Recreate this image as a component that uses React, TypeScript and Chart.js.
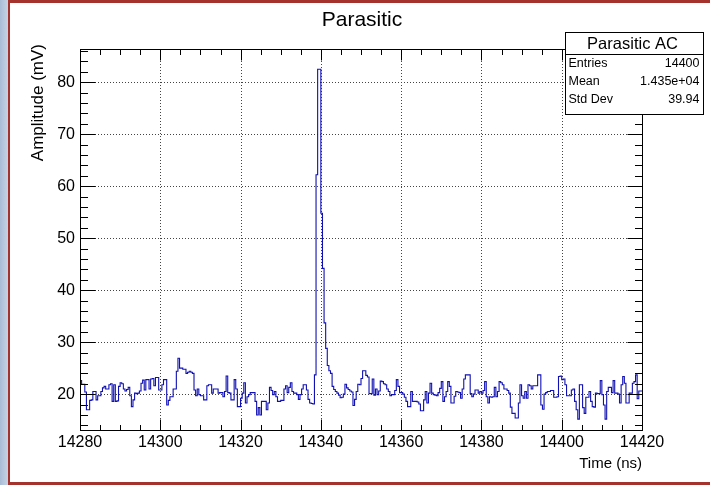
import React, { useEffect, useRef } from 'react';
import { Chart, registerables } from 'chart.js';

Chart.register(...registerables);

// ---- data ----
const BIN_START = 14280;
const BIN_WIDTH = 0.4;
const X_MIN = 14280;
const X_MAX = 14420;
const Y_MIN = 13.1;
const Y_MAX = 86.4;
const X_MAJOR = 20;
const X_MINOR = 5;
const Y_MAJOR = 10;
const Y_MINOR = 2;

const amplitude = [
  22.6, 22.6, 21.9, 21.9, 20.4, 17.0, 17.0, 18.8, 18.9, 20.5,
  20.5, 18.9, 19.7, 19.7, 20.5, 21.2, 21.5, 21.0, 21.0, 21.8,
  22.0, 18.6, 21.8, 18.6, 18.7, 21.5, 22.2, 22.0, 21.0, 20.6,
  20.9, 21.3, 19.7, 17.6, 18.9, 20.2, 20.1, 20.2, 20.6, 22.1,
  22.7, 20.8, 22.8, 22.8, 21.0, 22.9, 23.0, 21.6, 23.2, 23.2,
  20.8, 20.8, 21.8, 22.8, 22.8, 17.9, 18.8, 19.5, 19.5, 21.0,
  21.0, 24.4, 26.9, 25.0, 25.0, 24.8, 24.8, 24.0, 24.2, 24.4,
  24.2, 24.0, 20.8, 19.7, 21.0, 19.9, 19.7, 19.7, 18.9, 18.9,
  21.6, 21.8, 21.8, 20.2, 21.0, 21.0, 21.0, 20.2, 20.3, 20.3,
  19.5, 20.5, 23.5, 20.3, 20.2, 18.9, 18.9, 22.8, 21.0, 17.6,
  17.6, 19.2, 20.2, 22.2, 18.3, 19.5, 19.9, 20.3, 20.3, 20.3,
  18.6, 16.0, 17.4, 16.0, 18.6, 18.6, 18.6, 17.0, 18.3, 21.3,
  20.7, 19.9, 20.5, 19.5, 18.6, 18.6, 18.8, 18.8, 21.0, 21.6,
  20.3, 21.3, 22.2, 20.5, 20.2, 20.2, 19.9, 19.0, 19.9, 21.0,
  21.8, 21.8, 20.8, 19.0, 18.3, 18.2, 18.1, 23.7, 62.2, 82.5,
  82.5, 54.8, 44.2, 33.7, 28.8, 25.5, 24.5, 24.0, 21.5, 20.9,
  20.5, 20.2, 19.8, 19.3, 19.4, 20.0, 21.9, 21.2, 20.9, 20.6,
  20.4, 17.8, 19.0, 20.5, 21.9, 21.8, 23.0, 24.5, 24.5, 23.6,
  23.3, 20.1, 20.1, 22.9, 19.8, 21.0, 19.9, 20.6, 22.5, 22.4,
  22.0, 21.8, 21.0, 20.5, 19.7, 19.9, 19.9, 20.7, 22.8, 21.5,
  20.3, 20.3, 20.0, 19.4, 18.6, 17.6, 17.6, 20.5, 18.6, 18.6,
  18.6, 18.5, 18.1, 16.8, 16.8, 18.9, 20.5, 18.3, 20.2, 22.1,
  20.2, 19.9, 19.8, 19.7, 20.3, 21.1, 22.4, 18.6, 19.5, 20.5,
  22.4, 21.5, 18.3, 18.3, 19.6, 20.5, 20.4, 20.3, 19.2, 21.0,
  22.9, 23.7, 23.7, 23.7, 20.1, 19.5, 20.0, 20.8, 20.8, 20.2,
  20.5, 20.2, 20.7, 22.4, 19.5, 18.3, 19.5, 19.4, 19.5, 21.3,
  19.5, 20.5, 22.4, 22.2, 21.8, 21.0, 21.0, 20.7, 20.2, 17.5,
  16.3, 16.3, 15.4, 15.4, 18.3, 21.8, 19.7, 19.2, 20.5, 19.2,
  21.8, 21.6, 21.0, 21.6, 21.6, 21.6, 23.7, 23.7, 17.9, 17.1,
  20.0, 20.3, 20.5, 20.5, 20.7, 20.7, 19.4, 19.4, 19.5, 23.4,
  23.5, 22.8, 22.9, 21.8, 19.7, 19.7, 19.7, 20.8, 21.0, 18.6,
  17.0, 15.2, 21.8, 21.8, 17.4, 16.3, 19.4, 19.4, 20.5, 18.6,
  17.6, 17.5, 20.2, 20.1, 20.1, 22.6, 19.9, 17.9, 15.2, 20.5,
  21.3, 21.3, 20.3, 22.6, 20.2, 20.2, 20.0, 18.3, 21.8, 23.4,
  22.1, 18.3, 18.3, 20.2, 20.2, 22.1, 22.4, 23.7, 19.1, 20.6,
];

const TITLE = 'Parasitic';
const X_TITLE = 'Time (ns)';
const Y_TITLE = 'Amplitude (mV)';
const STATS_TITLE = 'Parasitic AC';
const statsLabels = ['Entries', 'Mean', 'Std Dev'];
const statsValues = ['14400', '1.435e+04', '39.94'];

const FONT = '"Liberation Sans", Arial, Helvetica, sans-serif';
const LINE_COLOR = '#1010b4';

const decor = {
  id: 'rootDecor',
  beforeDatasetsDraw(chart: any) {
    const { ctx, chartArea: a, scales } = chart;
    const xs = scales.x;
    const ys = scales.y;
    ctx.save();
    ctx.strokeStyle = '#444';
    ctx.lineWidth = 1;
    ctx.setLineDash([1, 2]);
    for (let v = X_MIN + X_MAJOR; v < X_MAX; v += X_MAJOR) {
      const px = Math.round(xs.getPixelForValue(v)) + 0.5;
      ctx.beginPath();
      ctx.moveTo(px, a.top);
      ctx.lineTo(px, a.bottom);
      ctx.stroke();
    }
    for (let v = Math.ceil(Y_MIN / Y_MAJOR) * Y_MAJOR; v < Y_MAX; v += Y_MAJOR) {
      const py = Math.round(ys.getPixelForValue(v)) + 0.5;
      ctx.beginPath();
      ctx.moveTo(a.left, py);
      ctx.lineTo(a.right, py);
      ctx.stroke();
    }
    ctx.restore();
  },
  afterDatasetsDraw(chart: any) {
    const { ctx, chartArea: a, scales } = chart;
    const xs = scales.x;
    const ys = scales.y;
    ctx.save();
    ctx.strokeStyle = '#000';
    ctx.lineWidth = 1;
    ctx.setLineDash([]);
    const L = Math.round(a.left) + 0.5;
    const R = Math.round(a.right) + 0.5;
    const T = Math.round(a.top) + 0.5;
    const B = Math.round(a.bottom) + 0.5;
    ctx.strokeRect(L, T, R - L, B - T);

    const xMaj = 11;
    const xMin = 5.5;
    for (let v = Math.ceil(X_MIN / X_MINOR) * X_MINOR; v <= X_MAX + 1e-9; v += X_MINOR) {
      const px = Math.round(xs.getPixelForValue(v)) + 0.5;
      const len = Math.abs((v - X_MIN) % X_MAJOR) < 1e-6 ? xMaj : xMin;
      ctx.beginPath();
      ctx.moveTo(px, B);
      ctx.lineTo(px, B - len);
      ctx.moveTo(px, T);
      ctx.lineTo(px, T + len);
      ctx.stroke();
    }
    const yMaj = 15;
    const yMin = 7.5;
    for (let v = Math.ceil(Y_MIN / Y_MINOR) * Y_MINOR; v <= Y_MAX + 1e-9; v += Y_MINOR) {
      const py = Math.round(ys.getPixelForValue(v)) + 0.5;
      const len = Math.abs(v % Y_MAJOR) < 1e-6 ? yMaj : yMin;
      ctx.beginPath();
      ctx.moveTo(L, py);
      ctx.lineTo(L + len, py);
      ctx.moveTo(R, py);
      ctx.lineTo(R - len, py);
      ctx.stroke();
    }

    // main title
    ctx.fillStyle = '#000';
    ctx.font = `21px ${FONT}`;
    ctx.textAlign = 'center';
    ctx.textBaseline = 'alphabetic';
    ctx.fillText(TITLE, 362, 26);

    // x title
    ctx.font = `15px ${FONT}`;
    ctx.textAlign = 'right';
    ctx.fillText(X_TITLE, a.right, 468);

    // y title
    ctx.save();
    ctx.translate(43, 44);
    ctx.rotate(-Math.PI / 2);
    ctx.textAlign = 'right';
    ctx.textBaseline = 'alphabetic';
    ctx.font = `17px ${FONT}`;
    ctx.fillText(Y_TITLE, 0, 0);
    ctx.restore();

    // stats box
    const bx = 565.5, by = 32.5, bw = 138, bh = 82;
    ctx.fillStyle = '#fff';
    ctx.fillRect(bx, by, bw, bh);
    ctx.strokeStyle = '#000';
    ctx.strokeRect(bx, by, bw, bh);
    ctx.beginPath();
    ctx.moveTo(bx, 54.5);
    ctx.lineTo(bx + bw, 54.5);
    ctx.stroke();
    ctx.fillStyle = '#000';
    ctx.font = `16.5px ${FONT}`;
    ctx.textAlign = 'center';
    ctx.textBaseline = 'middle';
    ctx.fillText(STATS_TITLE, bx + bw / 2 - 2, 44);
    ctx.font = `12.5px ${FONT}`;
    statsLabels.forEach((lab, i) => {
      const yy = 64 + i * 18;
      ctx.textAlign = 'left';
      ctx.fillText(lab, bx + 3, yy);
      ctx.textAlign = 'right';
      ctx.fillText(statsValues[i], bx + bw - 4, yy);
    });
    ctx.restore();
  },
};

export default function App() {
  const ref = useRef<HTMLCanvasElement | null>(null);
  useEffect(() => {
    if (!ref.current) return;
    const points = amplitude.map((v, k) => ({ x: BIN_START + k * BIN_WIDTH, y: v }));
    points.push({ x: BIN_START + amplitude.length * BIN_WIDTH, y: amplitude[amplitude.length - 1] });
    const chart = new Chart(ref.current, {
      type: 'line',
      data: {
        datasets: [
          {
            data: points,
            stepped: 'after',
            borderColor: LINE_COLOR,
            borderWidth: 1.1,
            pointRadius: 0,
            fill: false,
            tension: 0,
          },
        ],
      },
      options: {
        animation: false,
        responsive: false,
        devicePixelRatio: 1,
        layout: { padding: { left: 0, top: 49, right: 68, bottom: 0 } },
        plugins: { legend: { display: false }, title: { display: false }, tooltip: { enabled: false } },
        scales: {
          x: {
            type: 'linear',
            min: X_MIN,
            max: X_MAX,
            grid: { display: false, drawTicks: false },
            border: { display: false },
            ticks: {
              stepSize: X_MAJOR,
              autoSkip: false,
              maxRotation: 0,
              padding: 3,
              color: '#000',
              font: { family: FONT, size: 16 },
              callback: (v: any) => String(v),
            },
            afterFit: (s: any) => { s.height = 55; },
          },
          y: {
            type: 'linear',
            min: Y_MIN,
            max: Y_MAX,
            grid: { display: false, drawTicks: false },
            border: { display: false },
            ticks: {
              stepSize: Y_MAJOR,
              includeBounds: false,
              padding: 5,
              color: '#000',
              font: { family: FONT, size: 16 },
              callback: (v: any) => String(v),
            },
            afterFit: (s: any) => { s.width = 80; },
          },
        },
      },
      plugins: [decor],
    });
    return () => chart.destroy();
  }, []);

  return (
    <div style={{ position: 'fixed', left: 0, top: 0, width: 710, height: 485, background: '#fff', overflow: 'hidden' }}>
      <div style={{ position: 'absolute', left: 0, top: 0, width: 8, height: 485, background: 'linear-gradient(to right, #a9bcd6, #c6d3e4)' }} />
      <div style={{ position: 'absolute', left: 8, top: 0, width: 2, height: 485, background: '#a3332c' }} />
      <div style={{ position: 'absolute', left: 8, top: 0, width: 702, height: 3, background: '#a3332c' }} />
      <div style={{ position: 'absolute', left: 8, top: 482, width: 702, height: 3, background: '#a3332c' }} />
      <canvas ref={ref} width={710} height={485} style={{ position: 'absolute', left: 0, top: 0, width: 710, height: 485 }} />
    </div>
  );
}
